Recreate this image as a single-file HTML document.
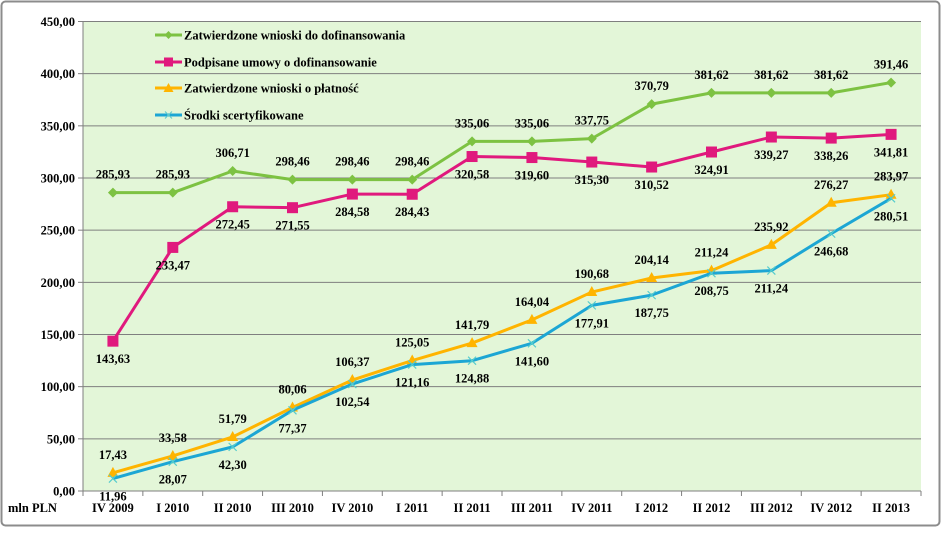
<!DOCTYPE html>
<html><head><meta charset="utf-8"><style>
body{margin:0;background:#fff;}
svg, svg text{font-family:"Liberation Serif","DejaVu Serif",serif;font-weight:bold;}
svg text{fill:#000;}
</style></head><body>
<svg width="945" height="530" viewBox="0 0 945 530" font-family="Liberation Serif, DejaVu Serif, serif" font-weight="bold">
<rect x="1.5" y="1.5" width="938" height="524" rx="4" fill="#fff" stroke="#8c8c8c" stroke-width="2"/>
<rect x="83" y="21.5" width="838" height="469.5" fill="#e3f6d8"/>
<g id="grid"></g><g id="axes"></g><g id="series"></g><g id="labels"></g>
<g font-size="12.5">
 <g><line x1="155" y1="35" x2="182" y2="35" stroke="#7dc242" stroke-width="3"/><path d="M168.5 31 L172.5 35 L168.5 39 L164.5 35Z" fill="#7dc242"/><text x="184" y="39.5" font-size="12.5">Zatwierdzone wnioski do dofinansowania</text></g>
 <g><line x1="155" y1="62" x2="182" y2="62" stroke="#e0197d" stroke-width="3"/><rect x="164" y="57.5" width="9" height="9" fill="#e0197d"/><text x="184" y="66.5" font-size="12.5">Podpisane umowy o dofinansowanie</text></g>
 <g><line x1="155" y1="88" x2="182" y2="88" stroke="#ffb400" stroke-width="3"/><path d="M168.5 83 L173.5 92 L163.5 92Z" fill="#ffb400"/><text x="184" y="92.5" font-size="12.5">Zatwierdzone wnioski o płatność</text></g>
 <g><line x1="155" y1="115" x2="182" y2="115" stroke="#1ca6d4" stroke-width="3"/><path d="M165 111.5 L172 118.5 M172 111.5 L165 118.5" stroke="#6cc" stroke-width="1.2"/><text x="184" y="119.5" font-size="12.5">Środki scertyfikowane</text></g>
</g>
<text x="8" y="512" font-size="12.5">mln PLN</text>
</svg>
<script>
const categories=["IV 2009","I 2010","II 2010","III 2010","IV 2010","I 2011","II 2011","III 2011","IV 2011","I 2012","II 2012","III 2012","IV 2012","II 2013"];
const greenVals=[285.93,285.93,306.71,298.46,298.46,298.46,335.06,335.06,337.75,370.79,381.62,381.62,381.62,391.46];
const magentaVals=[143.63,233.47,272.45,271.55,284.58,284.43,320.58,319.60,315.30,310.52,324.91,339.27,338.26,341.81];
const orangeVals=[17.43,33.58,51.79,80.06,106.37,125.05,141.79,164.04,190.68,204.14,211.24,235.92,276.27,283.97];
const blueVals=[11.96,28.07,42.30,77.37,102.54,121.16,124.88,141.60,177.91,187.75,208.75,211.24,246.68,280.51];
const yTicks=[0,50,100,150,200,250,300,350,400,450];
const NS="http://www.w3.org/2000/svg";
const L=83,R=921,T=21.5,B=491,YMAX=450;
const step=(R-L)/categories.length;
const x=i=>L+step*(i+0.5);
const y=v=>B-(v/YMAX)*(B-T);
const fmt=v=>v.toFixed(2).replace('.',',');
function mk(tag,attrs,parent){const e=document.createElementNS(NS,tag);for(const k in attrs)e.setAttribute(k,attrs[k]);parent.appendChild(e);return e;}
const grid=document.getElementById('grid'),axes=document.getElementById('axes'),ser=document.getElementById('series'),lab=document.getElementById('labels');
yTicks.forEach(t=>{
 const g=mk('line',{x1:L,x2:R,y1:y(t),y2:y(t),stroke:'#7f7f7f','stroke-width':1},grid);
 
 
 const tk=mk('line',{x1:L-5,x2:L,y1:y(t),y2:y(t),stroke:'#7f7f7f'},axes);
 
 
 const tx=mk('text',{x:L-8,y:y(t)+4.5,'text-anchor':'end','font-size':12.5},axes);
 tx.textContent=fmt(t);
 
 
});
const ya=mk('line',{x1:L,x2:L,y1:T,y2:B,stroke:'#7f7f7f'},axes);


categories.forEach((c,i)=>{
 const tk=mk('line',{x1:L+step*i,x2:L+step*i,y1:B,y2:B+5,stroke:'#7f7f7f'},axes);
 
 
 const tx=mk('text',{x:x(i),y:512,'text-anchor':'middle','font-size':12.5},axes);
 tx.textContent=c;
 
 
});
const tk2=mk('line',{x1:R,x2:R,y1:B,y2:B+5,stroke:'#7f7f7f'},axes);


function series(vals,color,name,marker,dy){
 const g=mk('g',{},ser);
 
 
 const p=mk('polyline',{points:vals.map((v,i)=>x(i)+','+y(v)).join(' '),fill:'none',stroke:color,'stroke-width':3,'stroke-linejoin':'round'},g);
 
 
 vals.forEach((v,i)=>{
  const cx=x(i),cy=y(v);let m;
  if(marker==='diamond')m=mk('path',{d:`M${cx} ${cy-5}L${cx+5} ${cy}L${cx} ${cy+5}L${cx-5} ${cy}Z`,fill:color},g);
  else if(marker==='square')m=mk('rect',{x:cx-5.5,y:cy-5.5,width:11,height:11,fill:color},g);
  else if(marker==='tri')m=mk('path',{d:`M${cx} ${cy-6}L${cx+5.5} ${cy+4}L${cx-5.5} ${cy+4}Z`,fill:color},g);
  else m=mk('path',{d:`M${cx-4} ${cy-4}L${cx+4} ${cy+4}M${cx+4} ${cy-4}L${cx-4} ${cy+4}`,stroke:'#5cc',fill:'none','stroke-width':1.2},g);
  
  
  const t=mk('text',{x:cx,y:cy+dy,'text-anchor':'middle','font-size':12.5,'font-family':'Liberation Serif, DejaVu Serif, serif'},lab);
  t.textContent=fmt(v);
  
  
 });
}
series(greenVals,'#7dc242','series-approved-applications','diamond',-14);
series(magentaVals,'#e0197d','series-signed-contracts','square',22);
series(orangeVals,'#ffb400','series-payment-applications','tri',-14);
series(blueVals,'#1ca6d4','series-certified-funds','x',22);
</script>
</body></html>
